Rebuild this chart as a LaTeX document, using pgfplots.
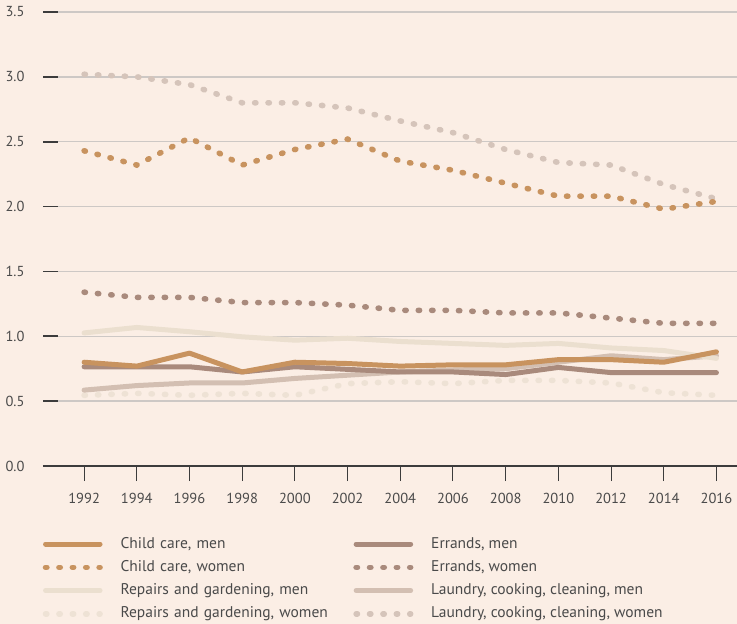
\documentclass[border=0pt]{standalone}
\usepackage{pgfplots}
\usepackage{pgfplotstable}
\pgfplotsset{compat=1.18}
\usepackage{fontspec}
\setmainfont{PT Sans}
\definecolor{bg}{HTML}{FBEEE5}
\definecolor{cc}{HTML}{C8935F}
\definecolor{er}{HTML}{A98A7C}
\definecolor{rm}{HTML}{EBDFCF}
\definecolor{rw}{HTML}{EEE2D5}
\definecolor{lm}{HTML}{D3BFB2}
\definecolor{lw}{HTML}{D5C4BA}
\definecolor{gridgray}{HTML}{CDC8C5}
\definecolor{axisdark}{HTML}{3C3C3C}
\definecolor{labelgray}{HTML}{4A4A4A}
\pgfplotstableread{
year ccm erm ccw erw rpm lam rpw law
1992 0.80 0.765 2.43 1.34 1.026 0.585 0.545 3.02
1994 0.77 0.765 2.32 1.30 1.068 0.62 0.56 3.00
1996 0.87 0.765 2.53 1.30 1.035 0.64 0.545 2.94
1998 0.725 0.725 2.32 1.26 0.996 0.64 0.56 2.80
2000 0.80 0.765 2.44 1.26 0.97 0.675 0.545 2.80
2002 0.79 0.745 2.52 1.24 0.985 0.70 0.635 2.76
2004 0.77 0.725 2.35 1.20 0.96 0.725 0.65 2.66
2006 0.78 0.725 2.28 1.20 0.945 0.74 0.635 2.57
2008 0.78 0.705 2.18 1.18 0.93 0.75 0.66 2.44
2010 0.82 0.76 2.08 1.18 0.945 0.80 0.66 2.34
2012 0.82 0.72 2.08 1.14 0.91 0.85 0.64 2.32
2014 0.80 0.72 1.98 1.10 0.89 0.82 0.565 2.17
2016 0.88 0.72 2.04 1.10 0.83 0.85 0.545 2.06
}\data
\begin{document}
\begin{tikzpicture}
\useasboundingbox (-43pt,-158pt) rectangle (694pt,466pt);
\fill[bg] (-43pt,-158pt) rectangle (694pt,466pt);
\begin{axis}[
  at={(0pt,0pt)}, anchor=south west,
  scale only axis, width=694pt, height=454pt,
  xmin=1990.44, xmax=2016.78, ymin=0, ymax=3.5,
  axis x line*=bottom, axis y line*=left,
  y axis line style={draw=none},
  x axis line style={draw=axisdark, line width=1.5pt},
  xtick={1992,1994,...,2016},
  ytick={0,0.5,...,3.5},
  /pgf/number format/assume math mode=true,
  xticklabel style={/pgf/number format/1000 sep={}, font=\fontsize{14.5}{15}\selectfont, text=labelgray, yshift=-9pt},
  yticklabel style={/pgf/number format/.cd,fixed,fixed zerofill,precision=1,/tikz/.cd, font=\fontsize{14.5}{15}\selectfont, text=labelgray},
  tick align=outside, major tick length=15pt,
  xtick style={draw=axisdark, line width=1pt},
  ytick style={draw=axisdark, line width=1.6pt, xshift=15pt},
  ymajorgrids, major grid style={draw=gridgray, line width=1.3pt},
  sline/.style={line width=5pt, line cap=round, line join=round},
  dline/.style={line width=5.6pt, line cap=round, dash pattern=on 1.3pt off 12.1pt},
  legend columns=2, reverse legend, legend cell align=left,
  legend image code/.code={\path (0pt,0pt) (60pt,0pt); \draw[#1] (2.75pt,0pt) -- (57.25pt,0pt);},
  legend style={draw=none, fill=none, at={(axis description cs:0,0)}, anchor=north west,
    xshift=-3pt, yshift=-71pt, inner sep=0pt, outer sep=0pt, row sep=9.3pt, column sep=0pt,
    font=\fontsize{15.5}{15.5}\selectfont, text=labelgray,
    nodes={inner sep=0pt, outer sep=0pt, text height=11pt, text depth=3pt},
    /tikz/column 1/.style={column sep=15pt},
    /tikz/column 2/.style={column sep=15pt, nodes={text width=215pt, align=left}},
    /tikz/column 3/.style={column sep=15pt}},
]
\addplot[lw, dline] table[x=year, y=law] {\data};
\addlegendentry{Laundry, cooking, cleaning, women}
\addplot[rw, dline] table[x=year, y=rpw] {\data};
\addlegendentry{Repairs and gardening, women}
\addplot[lm, sline] table[x=year, y=lam] {\data};
\addlegendentry{Laundry, cooking, cleaning, men}
\addplot[rm, sline] table[x=year, y=rpm] {\data};
\addlegendentry{Repairs and gardening, men}
\addplot[er, dline] table[x=year, y=erw] {\data};
\addlegendentry{Errands, women}
\addplot[cc, dline] table[x=year, y=ccw] {\data};
\addlegendentry{Child care, women}
\addplot[er, sline] table[x=year, y=erm] {\data};
\addlegendentry{Errands, men}
\addplot[cc, sline] table[x=year, y=ccm] {\data};
\addlegendentry{Child care, men}
\end{axis}
\end{tikzpicture}
\end{document}
